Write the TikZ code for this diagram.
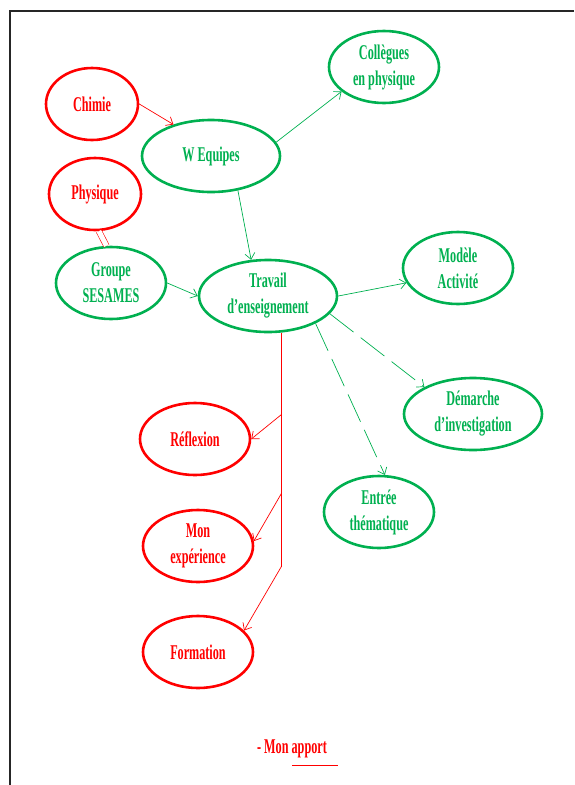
\documentclass[tikz,border=0pt]{standalone}
\usepackage{fontspec}
\setmainfont{Liberation Serif}[FakeStretch=0.58]
\usepackage{tikz}
\usetikzlibrary{arrows.meta,shapes.geometric}
\definecolor{mapred}{HTML}{FF0000}
\definecolor{mapgreen}{HTML}{00B050}
\tikzset{
  bubble/.style={ellipse, line width=2.6pt, inner sep=0pt, align=center,
    minimum width=110pt, minimum height=72pt,
    font=\bfseries\fontsize{21}{26}\selectfont},
  redbubble/.style={bubble, draw=mapred, text=mapred},
  greenbubble/.style={bubble, draw=mapgreen, text=mapgreen},
  link/.style={-{Straight Barb[length=6pt,width=10pt]}, line width=0.7pt},
  redlink/.style={link, mapred},
  greenlink/.style={link, mapgreen},
  longdash/.style={dash pattern=on 30pt off 9pt}
}

\begin{document}
\begin{tikzpicture}[x=1pt, y=-1pt]

    % page and frame
    \useasboundingbox (0,0) rectangle (574,785);
    \draw[line width=2.2pt, black!85] (574,11) -- (10,11) -- (10,785);

    % widths of the bubbles
    \def\smallw{92pt}
    \def\widew{138pt}

    % red bubbles
    \node[redbubble, minimum width=\smallw] (chimie)   at (92,104)  {Chimie};
    \node[redbubble, minimum width=\smallw] (physique) at (95,194)  {Physique};
    \node[redbubble] (reflexion)  at (195,439) {Réflexion};
    \node[redbubble] (experience) at (198,546) {Mon\\expérience};
    \node[redbubble] (formation)  at (198,652) {Formation};

    % green bubbles
    \node[greenbubble] (collegues) at (384,67) {Collègues\\en physique};
    \node[greenbubble, minimum width=\widew] (wequipes) at (211,156) {W Equipes};
    \node[greenbubble] (groupe) at (111,283) {Groupe\\SESAMES};
    \node[greenbubble, minimum width=\widew] (travail) at (268,296) {Travail\\d’enseignement};
    \node[greenbubble] (modele) at (458,268) {Modèle\\Activité};
    \node[greenbubble, minimum width=\widew] (demarche) at (473,414) {Démarche\\d’investigation};
    \node[greenbubble] (entree) at (379,512) {Entrée\\thématique};

    % links into the work
    \draw[redlink] (chimie.east) -- (wequipes.140);
    \draw[mapred, line width=0.6pt, double, double distance=5pt] (physique.-84) -- (groupe.97);
    \draw[greenlink] (wequipes.12) -- (collegues.210);
    \draw[greenlink] (wequipes.-52) -- (travail.115);
    \draw[greenlink] (groupe.east) -- (travail.west);

    % links out of the work
    \draw[greenlink] (travail.east) -- (modele.196);
    \draw[greenlink, longdash] (travail.-16) -- (demarche.151);
    \draw[greenlink, longdash] (travail.-30) -- (entree.81);

    % red trunk with its branches
    \path (travail.-70) ++(0,82) coordinate (br1)
                        ++(0,79) coordinate (br2)
                        ++(0,73) coordinate (br3);
    \draw[mapred, line width=0.7pt] (travail.-70) -- (br3);
    \foreach \from/\to in {br1/reflexion.east, br2/experience.5, br3/formation.25}{
      \draw[redlink] (\from) -- (\to);
    }

    % caption
    \node[inner sep=0pt, text=mapred, font=\bfseries\fontsize{21}{26}\selectfont]
      (apport) at (292,749) {- Mon apport};
    \draw[mapred, line width=0.8pt] ([shift={(-35,7)}]apport.south east) -- ++(46,0);

\end{tikzpicture}
\end{document}
